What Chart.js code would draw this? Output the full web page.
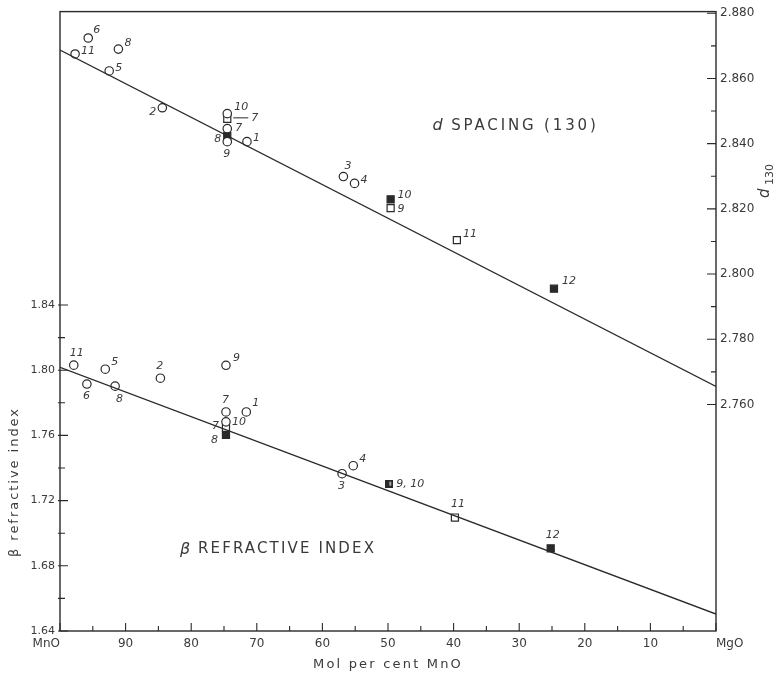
<!DOCTYPE html>
<html>
<head>
<meta charset="utf-8">
<script src="https://cdn.jsdelivr.net/npm/chart.js@4.4.0/dist/chart.umd.min.js"></script>
<style>
  html, body { margin: 0; background: #fff; }
  #wrap { width: 784px; height: 680px; }
</style>
</head>
<body>
<div id="wrap"><canvas id="chart" width="784" height="680"></canvas></div>
<script>
// eje x: Mol % MnO (invertido, MnO a la izquierda)
const xTicks = [100, 90, 80, 70, 60, 50, 40, 30, 20, 10, 0];
const xTickLabels = ['MnO', '90', '80', '70', '60', '50', '40', '30', '20', '10', 'MgO'];
const betaTicks = [1.64, 1.68, 1.72, 1.76, 1.80, 1.84];
const dTicks = [2.76, 2.78, 2.80, 2.82, 2.84, 2.86, 2.88];

// d spacing (130)
const dCircMol = [97.7, 95.7, 91.1, 92.5, 84.4, 74.5, 74.5, 74.5, 71.5, 56.8, 55.1];
const dCircVal = [2.8675, 2.8724, 2.8690, 2.8623, 2.8510, 2.8492, 2.8446, 2.8406, 2.8406, 2.8299, 2.8278];
const dCircLbl = ['11', '6', '8', '5', '2', '10', '7', '9', '1', '3', '4'];
const dOpenMol = [74.5, 49.6, 39.5];
const dOpenVal = [2.8476, 2.8202, 2.8104];
const dOpenLbl = ['7', '9', '11'];
const dFillMol = [74.5, 49.6, 24.7];
const dFillVal = [2.8424, 2.8229, 2.7955];
const dFillLbl = ['8', '10', '12'];
const dFitMol = [100, 0];
const dFitVal = [2.8687, 2.7655];

// indice de refraccion beta
const bCircMol = [97.9, 93.1, 95.9, 91.6, 84.7, 74.7, 74.7, 74.7, 71.6, 57.0, 55.3];
const bCircVal = [1.8031, 1.8006, 1.7915, 1.7902, 1.7951, 1.8030, 1.7744, 1.7683, 1.7744, 1.7365, 1.7414];
const bCircLbl = ['11', '5', '6', '8', '2', '9', '7', '10', '1', '3', '4'];
const bOpenMol = [74.7, 39.8];
const bOpenVal = [1.7646, 1.7096];
const bOpenLbl = ['7', '11'];
const bFillMol = [74.7, 25.2];
const bFillVal = [1.7603, 1.6907];
const bFillLbl = ['8', '12'];
const bHalfMol = [49.8];
const bHalfVal = [1.7304];
const bHalfLbl = ['9, 10'];
const bFitMol = [100, 0];
const bFitVal = [1.8018, 1.6504];

const INK = '#2a2a2a';
const TXT = '#3a3a3a';
const FONT = '"DejaVu Sans", sans-serif';

// desplazamiento de las etiquetas de cada punto [dx, dy, linea guia]
const OFF = {
    dCirc: [[6, -3], [5, -8], [6, -6], [6, -3], [-13, 4], [7, -6], [8, 0], [-4, 12], [6, -4], [1, -10], [6, -3]],
    dOpen: [[24, -1, true], [7, 1], [6, -6]],
    dFill: [[-13, 3], [7, -4], [8, -8]],
    bCirc: [[-4, -12], [6, -7], [-4, 12], [1, 13], [-4, -12], [7, -7], [-4, -12], [6, 0], [6, -9], [-4, 12], [6, -7]],
    bOpen: [[-14, -2], [-4, -13]],
    bFill: [[-15, 5], [-5, -13]],
    bHalf: [[7, 0]]
};

function pts(xs, ys) {
    return xs.map((x, i) => ({ x: x, y: ys[i] }));
}

function halfSquare() {
    const c = document.createElement('canvas');
    c.width = 8; c.height = 8;
    const g = c.getContext('2d');
    g.fillStyle = INK;
    g.fillRect(0, 0, 8, 8);
    g.fillStyle = '#aaa';
    g.fillRect(4, 2, 2, 4);
    return c;
}

function markers(key, xs, ys, lbls, style, filled, axis) {
    return {
        type: 'scatter',
        data: pts(xs, ys),
        yAxisID: axis,
        pointStyle: style,
        pointRadius: style === 'circle' ? 4.2 : 5,
        pointBorderWidth: 1.2,
        borderColor: INK,
        backgroundColor: filled ? INK : '#fff',
        pointLabels: lbls,
        labelKey: key
    };
}

function fitLine(xs, ys, axis) {
    return {
        type: 'line',
        data: pts(xs, ys),
        yAxisID: axis,
        borderColor: INK,
        borderWidth: 1.3,
        pointRadius: 0,
        fill: false,
        tension: 0
    };
}

function spacedText(ctx, text, x, y, width) {
    ctx.letterSpacing = '0px';
    const natural = ctx.measureText(text).width;
    ctx.letterSpacing = ((width - natural) / text.length) + 'px';
    ctx.fillText(text, x, y);
    ctx.letterSpacing = '0px';
}

// marco, marcas de los ejes, textos y etiquetas de puntos
const decor = {
    id: 'decor',
    afterDatasetsDraw(chart) {
        const ctx = chart.ctx;
        chart.data.datasets.forEach((ds, di) => {
            if (!ds.pointLabels) return;
            const meta = chart.getDatasetMeta(di);
            ctx.save();
            ctx.fillStyle = TXT;
            ctx.strokeStyle = INK;
            ctx.lineWidth = 1;
            ctx.font = 'italic 11px ' + FONT;
            ctx.textAlign = 'left';
            ctx.textBaseline = 'middle';
            meta.data.forEach((el, i) => {
                const o = OFF[ds.labelKey][i];
                if (o[2]) {
                    ctx.beginPath();
                    ctx.moveTo(el.x + 6, el.y + o[1]);
                    ctx.lineTo(el.x + o[0] - 3, el.y + o[1]);
                    ctx.stroke();
                }
                ctx.fillText(ds.pointLabels[i], el.x + o[0], el.y + o[1]);
            });
            ctx.restore();
        });
    },
    afterDraw(chart) {
        const { ctx, chartArea: a, scales: { x, y, y2 } } = chart;
        ctx.save();
        ctx.strokeStyle = INK;
        ctx.lineWidth = 1.4;
        ctx.strokeRect(a.left, a.top, a.right - a.left, a.bottom - a.top);

        ctx.lineWidth = 1.1;
        ctx.beginPath();
        for (let v = 0; v <= 100; v += 5) {
            const px = x.getPixelForValue(v);
            const len = v % 10 === 0 ? 8 : 5;
            ctx.moveTo(px, a.bottom);
            ctx.lineTo(px, a.bottom - len);
        }
        for (let k = 0; k <= 10; k++) {
            const py = y.getPixelForValue(1.64 + k * 0.02);
            const len = k % 2 === 0 ? 8 : 5;
            ctx.moveTo(a.left - 2, py);
            ctx.lineTo(a.left + len, py);
        }
        for (let k = 0; k <= 12; k++) {
            const py = y2.getPixelForValue(2.76 + k * 0.01);
            const len = k % 2 === 0 ? 9 : 5;
            ctx.moveTo(a.right, py);
            ctx.lineTo(a.right - len, py);
        }
        ctx.stroke();

        ctx.fillStyle = TXT;
        ctx.textBaseline = 'middle';
        ctx.textAlign = 'left';

        // d SPACING (130)
        let tx = x.getPixelForValue(43.2);
        let ty = y2.getPixelForValue(2.8455);
        ctx.font = 'italic 16px ' + FONT;
        ctx.fillText('d', tx, ty);
        ctx.font = '15px ' + FONT;
        spacedText(ctx, ' SPACING (130)', tx + 11, ty, 155);

        // beta REFRACTIVE INDEX
        tx = x.getPixelForValue(81.7);
        ty = y.getPixelForValue(1.690);
        ctx.font = 'italic 16px ' + FONT;
        ctx.fillText('\u03B2', tx, ty);
        ctx.font = '15px ' + FONT;
        spacedText(ctx, ' REFRACTIVE INDEX', tx + 11, ty, 185);

        // titulo eje x
        ctx.font = '13px ' + FONT;
        spacedText(ctx, 'Mol per cent MnO', 313, 665, 150);

        // titulo eje izquierdo
        ctx.save();
        ctx.translate(15, 482);
        ctx.rotate(-Math.PI / 2);
        ctx.font = '13px ' + FONT;
        spacedText(ctx, '\u03B2 refractive index', -75, 0, 150);
        ctx.restore();

        // titulo eje derecho: d 130
        ctx.save();
        ctx.translate(765, 182);
        ctx.rotate(-Math.PI / 2);
        ctx.font = 'italic 15px ' + FONT;
        ctx.fillText('d', -16, 0);
        ctx.font = '11px ' + FONT;
        ctx.fillText('130', -3, 5);
        ctx.restore();

        ctx.restore();
    }
};

const ctx = document.getElementById('chart').getContext('2d');
const chart = new Chart(ctx, {
    data: {
        datasets: [
            fitLine(dFitMol, dFitVal, 'y2'),
            fitLine(bFitMol, bFitVal, 'y'),
            markers('dCirc', dCircMol, dCircVal, dCircLbl, 'circle', false, 'y2'),
            markers('dOpen', dOpenMol, dOpenVal, dOpenLbl, 'rect', false, 'y2'),
            markers('dFill', dFillMol, dFillVal, dFillLbl, 'rect', true, 'y2'),
            markers('bCirc', bCircMol, bCircVal, bCircLbl, 'circle', false, 'y'),
            markers('bOpen', bOpenMol, bOpenVal, bOpenLbl, 'rect', false, 'y'),
            markers('bFill', bFillMol, bFillVal, bFillLbl, 'rect', true, 'y'),
            markers('bHalf', bHalfMol, bHalfVal, bHalfLbl, halfSquare(), true, 'y')
        ]
    },
    options: {
        responsive: false,
        animation: false,
        layout: { padding: { top: 10, left: 0, right: 0, bottom: 0 } },
        plugins: {
            legend: { display: false },
            tooltip: { enabled: false }
        },
        scales: {
            x: {
                type: 'linear',
                reverse: true,
                min: 0,
                max: 100,
                afterBuildTicks: s => { s.ticks = xTicks.map(v => ({ value: v })); },
                afterFit: s => { s.height = 49; },
                grid: { display: false, drawTicks: false },
                border: { display: false },
                ticks: {
                    align: 'inner',
                    padding: 6,
                    color: TXT,
                    font: { family: FONT, size: 12 },
                    callback: v => xTickLabels[xTicks.indexOf(v)]
                }
            },
            y: {
                type: 'linear',
                position: 'left',
                min: 1.64,
                max: 2.02,
                afterBuildTicks: s => { s.ticks = betaTicks.map(v => ({ value: v })); },
                afterFit: s => { s.width = 60; },
                grid: { display: false, drawTicks: false },
                border: { display: false },
                ticks: {
                    padding: 5,
                    color: TXT,
                    font: { family: FONT, size: 11 },
                    callback: v => v.toFixed(2)
                }
            },
            y2: {
                type: 'linear',
                position: 'right',
                min: 2.6905,
                max: 2.8805,
                afterBuildTicks: s => { s.ticks = dTicks.map(v => ({ value: v })); },
                afterFit: s => { s.width = 68; },
                grid: { display: false, drawTicks: false },
                border: { display: false },
                ticks: {
                    padding: 4,
                    color: TXT,
                    font: { family: FONT, size: 12 },
                    callback: v => v.toFixed(3)
                }
            }
        }
    },
    plugins: [decor]
});
</script>
</body>
</html>
